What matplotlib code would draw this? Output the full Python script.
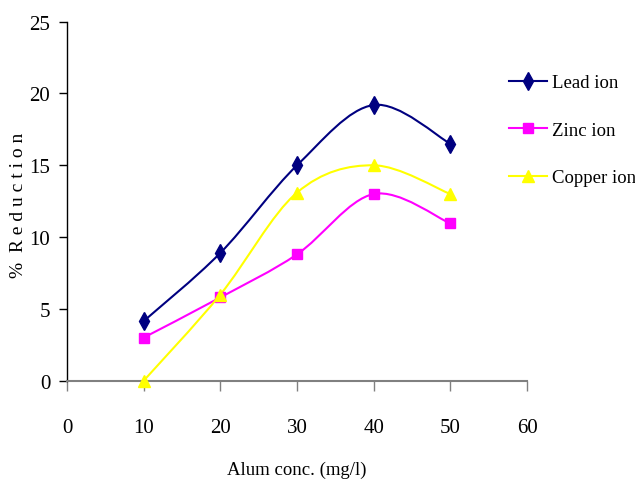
import numpy as np
import matplotlib
matplotlib.use("Agg")
import matplotlib.pyplot as plt
from matplotlib.path import Path
from matplotlib.patches import PathPatch
from matplotlib.lines import Line2D

plt.rcParams['font.family'] = ['Liberation Serif', 'DejaVu Serif']

alum = [10, 20, 30, 40, 50]
lead = [4.15, 8.9, 15.0, 19.2, 16.5]
zinc = [3.0, 5.8, 8.8, 13.0, 10.95]
copper = [0.0, 6.0, 13.1, 15.0, 13.0]

series = [
    ("Lead ion", lead, "#000080", "d", 9),
    ("Zinc ion", zinc, "#FF00FF", "s", 7),
    ("Copper ion", copper, "#FFFF00", "^", 8),
]


def smooth_path(x, y):
    # Excel-like smoothed line: Catmull-Rom segments as cubic Beziers
    p = np.column_stack([x, y]).astype(float)
    verts = [p[0]]
    codes = [Path.MOVETO]
    n = len(p)
    for i in range(n - 1):
        p0 = p[i - 1] if i > 0 else p[i]
        p3 = p[i + 2] if i + 2 < n else p[i + 1]
        c1 = p[i] + (p[i + 1] - p0) / 6.0
        c2 = p[i + 1] - (p3 - p[i]) / 6.0
        verts += [c1, c2, p[i + 1]]
        codes += [Path.CURVE4] * 3
    return Path(verts, codes)


fig = plt.figure(figsize=(6.35, 4.89), dpi=100)
ax = fig.add_axes([0.1055, 0.2194, 0.7245, 0.7342])

handles = []
for name, vals, col, mk, ms in series:
    ax.add_patch(PathPatch(smooth_path(alum, vals), facecolor="none",
                           edgecolor=col, lw=1.5, zorder=3))
    ax.plot(alum, vals, linestyle="none", marker=mk, color=col, ms=ms,
            zorder=4, clip_on=False)
    handles.append(Line2D([], [], color=col, lw=1.5, marker=mk, ms=ms))

ax.set_xlim(0, 60)
ax.set_ylim(0, 25)
ax.set_xticks([0, 10, 20, 30, 40, 50, 60])
ax.set_yticks([0, 5, 10, 15, 20, 25])

for s in ["top", "right"]:
    ax.spines[s].set_visible(False)
ax.spines["left"].set_color("black")
ax.spines["bottom"].set_color("#808080")
ax.spines["left"].set_linewidth(1.0)
ax.spines["bottom"].set_linewidth(1.5)

ax.tick_params(axis="y", direction="out", length=6, width=1, color="black",
               pad=6, labelsize=15)
ax.tick_params(axis="x", direction="out", length=7, width=1, color="#808080",
               pad=20, labelsize=15)

ax.set_xlabel("Alum conc. (mg/l)", fontsize=13.5)
ax.xaxis.set_label_coords(0.5, -0.222)
ax.set_ylabel("%  R e d u c t i o n", fontsize=14)
ax.yaxis.set_label_coords(-0.088, 0.49)

fig.legend(handles, [s[0] for s in series], loc="upper left",
           bbox_to_anchor=(0.79, 0.862), frameon=False, fontsize=13.5,
           handlelength=2.0, handletextpad=0.3, labelspacing=1.62,
           borderaxespad=0)

fig.savefig("out.png", dpi=100)
